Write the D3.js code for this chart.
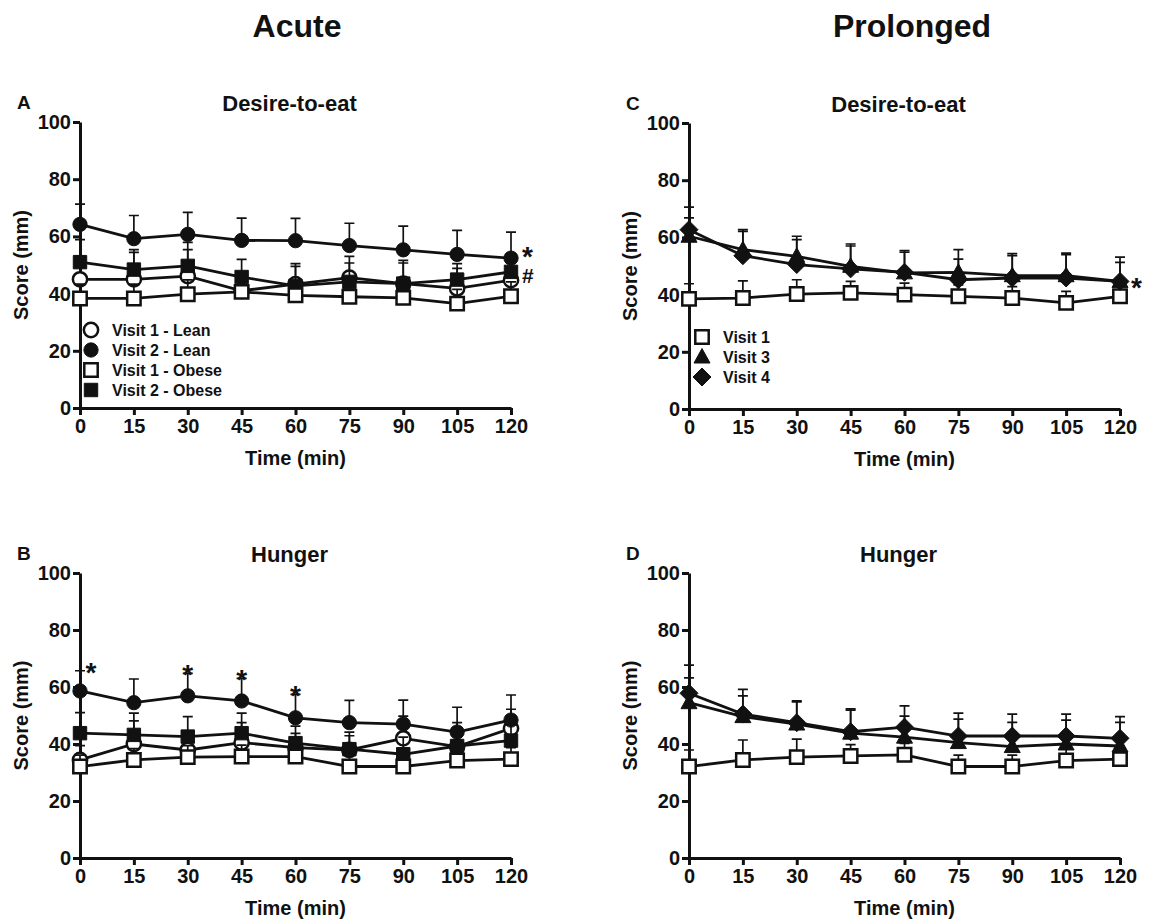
<!DOCTYPE html>
<html>
<head>
<meta charset="utf-8">
<script src="https://cdn.jsdelivr.net/npm/d3@7/dist/d3.min.js"></script>
<style>
body { margin: 0; background: #fff; }
svg text { font-family: "Liberation Sans", Arial, sans-serif; font-weight: bold; fill: #111; }
</style>
</head>
<body>
<script>
// time points and y ticks
var times = [0, 15, 30, 45, 60, 75, 90, 105, 120];
var yTicks = [0, 20, 40, 60, 80, 100];

// A - acute, desire-to-eat (mean, SEM)
var aV1Lean = [45.0, 45.0, 46.1, 41.0, 43.3, 45.6, 43.5, 41.8, 44.7];
var aV1LeanErr = [8.0, 9.4, 11.8, 6.5, 6.2, 7.4, 7.2, 7.0, 7.0];
var aV2Lean = [64.2, 59.2, 60.7, 58.6, 58.5, 56.8, 55.3, 53.7, 52.4];
var aV2LeanErr = [7.1, 8.1, 7.7, 7.8, 7.8, 7.8, 8.3, 8.4, 9.1];
var aV1Obese = [38.3, 38.3, 39.8, 40.6, 39.4, 38.9, 38.5, 36.5, 39.1];
var aV1ObeseErr = [5.0, 5.0, 5.0, 4.5, 5.0, 5.0, 5.0, 5.0, 5.0];
var aV2Obese = [51.0, 48.4, 49.7, 45.8, 42.7, 44.1, 43.5, 44.9, 47.6];
var aV2ObeseErr = [7.9, 7.0, 5.7, 6.2, 7.8, 6.6, 8.1, 5.6, 4.0];

// B - acute, hunger
var bV1Lean = [34.4, 40.0, 37.9, 40.5, 38.7, 37.9, 42.0, 39.1, 45.5];
var bV1LeanErr = [5.0, 8.1, 6.0, 7.0, 5.0, 5.0, 7.8, 5.0, 6.7];
var bV2Lean = [58.6, 54.5, 56.9, 55.1, 49.2, 47.5, 47.0, 44.2, 48.4];
var bV2LeanErr = [7.1, 8.3, 7.9, 7.9, 8.2, 7.8, 8.4, 8.7, 8.8];
var bV1Obese = [32.1, 34.4, 35.4, 35.6, 35.6, 32.1, 32.1, 34.2, 34.7];
var bV1ObeseErr = [4.0, 4.0, 4.0, 4.0, 4.0, 4.0, 4.0, 4.0, 4.0];
var bV2Obese = [43.8, 43.2, 42.6, 43.8, 40.3, 38.2, 36.4, 39.3, 41.2];
var bV2ObeseErr = [7.2, 7.6, 7.0, 7.0, 6.0, 6.0, 6.0, 8.2, 6.0];
var bStarIdx = [0, 2, 3, 4];

// C - prolonged, desire-to-eat
var cV1 = [38.5, 38.8, 40.2, 40.6, 40.0, 39.4, 38.8, 37.1, 39.4];
var cV1Err = [5.3, 6.0, 5.0, 4.0, 4.0, 4.0, 4.0, 4.0, 4.0];
var cV3 = [60.4, 55.7, 53.4, 49.9, 47.6, 47.8, 46.6, 46.6, 44.6];
var cV3Err = [6.4, 7.0, 7.0, 7.8, 7.8, 7.9, 7.7, 7.9, 6.7];
var cV4 = [62.7, 53.6, 50.5, 49.0, 47.8, 45.2, 45.8, 45.8, 44.6];
var cV4Err = [7.9, 8.5, 8.7, 8.0, 7.0, 7.2, 7.8, 8.2, 8.5];

// D - prolonged, hunger
var dV1 = [32.1, 34.4, 35.4, 35.8, 36.2, 32.1, 32.1, 34.2, 34.7];
var dV1Err = [5.8, 7.0, 6.3, 4.0, 4.0, 4.0, 4.0, 4.0, 4.0];
var dV3 = [54.5, 49.6, 47.0, 43.8, 42.4, 40.5, 39.1, 40.0, 39.3];
var dV3Err = [8.7, 7.3, 7.8, 8.1, 7.4, 8.2, 8.5, 8.4, 8.3];
var dV4 = [57.8, 50.5, 47.5, 44.3, 45.9, 42.8, 42.8, 42.8, 42.0];
var dV4Err = [9.9, 8.7, 7.6, 8.0, 7.5, 8.0, 7.7, 7.7, 7.6];

var INK = '#111';

var svg = d3.select('body').append('svg')
	.attr('width', 1151)
	.attr('height', 922);

// column headings
svg.append('text').attr('x', 297).attr('y', 37).attr('text-anchor', 'middle')
	.style('font-size', '32px').text('Acute');
svg.append('text').attr('x', 912).attr('y', 37).attr('text-anchor', 'middle')
	.style('font-size', '32px').text('Prolonged');

// marker shapes
function markerPath(shape) {
	if (shape === 'circle') return d3.symbol().type(d3.symbolCircle).size(160)();
	if (shape === 'square') return d3.symbol().type(d3.symbolSquare).size(180)();
	if (shape === 'triangle') return 'M0,-8.5L8,6L-8,6Z';
	if (shape === 'diamond') return 'M0,-9L9,0L0,9L-9,0Z';
}

function drawPanel(p) {
	var x = d3.scaleLinear().domain([0, 120]).range([p.left, p.right]);
	var y = d3.scaleLinear().domain([0, 100]).range([p.bottom, p.top]);
	var g = svg.append('g');

	// labels
	g.append('text').attr('x', p.left - 63).attr('y', p.top - 13)
		.style('font-size', '19px').text(p.letter);
	g.append('text').attr('x', (p.left + p.right) / 2 - 6).attr('y', p.top - 11)
		.attr('text-anchor', 'middle').style('font-size', '22px').text(p.title);
	g.append('text')
		.attr('transform', 'translate(' + (p.left - 52) + ',' + ((p.top + p.bottom) / 2) + ') rotate(-90)')
		.attr('text-anchor', 'middle').style('font-size', '20px').text('Score (mm)');
	g.append('text').attr('x', (p.left + p.right) / 2).attr('y', p.bottom + 57)
		.attr('text-anchor', 'middle').style('font-size', '20px').text('Time (min)');

	// axes
	var yAxis = d3.axisLeft(y).tickValues(yTicks).tickSize(7).tickSizeOuter(0).tickPadding(2);
	var xAxis = d3.axisBottom(x).tickValues(times).tickSize(7).tickSizeOuter(0).tickPadding(4);
	var ya = g.append('g').attr('transform', 'translate(' + p.left + ',0)').call(yAxis);
	var xa = g.append('g').attr('transform', 'translate(0,' + p.bottom + ')').call(xAxis);
	[ya, xa].forEach(function(a) {
		a.select('.domain').attr('stroke', INK).attr('stroke-width', 3);
		a.selectAll('.tick line').attr('stroke', INK).attr('stroke-width', 3);
		a.selectAll('.tick text').style('font-size', '20px').attr('fill', INK);
	});

	// series
	p.series.forEach(function(s) {
		var pts = times.map(function(t, i) { return { t: t, v: s.mean[i], e: s.err[i] }; });
		var sg = g.append('g');
		sg.selectAll('.err').data(pts).enter().append('path')
			.attr('d', function(d) {
				var cx = x(d.t), y0 = y(d.v), y1 = y(d.v + d.e);
				return 'M' + cx + ',' + y0 + 'V' + y1 + 'M' + (cx - 5) + ',' + y1 + 'H' + (cx + 5);
			})
			.attr('fill', 'none').attr('stroke', INK).attr('stroke-width', 1.7);
		sg.append('path').datum(pts)
			.attr('d', d3.line().x(function(d) { return x(d.t); }).y(function(d) { return y(d.v); }))
			.attr('fill', 'none').attr('stroke', INK).attr('stroke-width', 2.8);
		sg.selectAll('.mk').data(pts).enter().append('path')
			.attr('transform', function(d) { return 'translate(' + x(d.t) + ',' + y(d.v) + ')'; })
			.attr('d', markerPath(s.shape))
			.attr('fill', s.filled ? INK : '#fff')
			.attr('stroke', INK).attr('stroke-width', s.filled ? 1 : 2.5);
	});

	// legend
	if (p.legend) {
		p.series.slice().sort(function(a, b) { return a.order - b.order; }).forEach(function(s, i) {
			var ly = p.legendY + i * 20;
			g.append('path')
				.attr('transform', 'translate(' + (p.left + p.legendDx) + ',' + ly + ')')
				.attr('d', markerPath(s.shape))
				.attr('fill', s.filled ? INK : '#fff')
				.attr('stroke', INK).attr('stroke-width', s.filled ? 1 : 2.5);
			g.append('text').attr('x', p.left + p.legendDx + 21).attr('y', ly + 6)
				.style('font-size', '16px').text(s.name);
		});
	}

	// significance marks after the last time point
	(p.endMarks || []).forEach(function(m) {
		var s = p.series[m.series];
		g.append('text').attr('x', x(120) + 11).attr('y', y(s.mean[8]) + m.dy)
			.style('font-size', m.size + 'px').text(m.label);
	});
	// significance marks above error bars
	(p.stars || []).forEach(function(m) {
		var s = p.series[m.series];
		m.idx.forEach(function(i) {
			var sx = x(times[i]) + (i === 0 ? 11 : 0);
			g.append('text').attr('x', sx).attr('y', y(s.mean[i] + s.err[i]) + 11)
				.attr('text-anchor', 'middle').style('font-size', '28px').text('*');
		});
	});
}

var acuteSeries = function(v1l, v1le, v2l, v2le, v1o, v1oe, v2o, v2oe) {
	return [
		{ name: 'Visit 1 - Lean', mean: v1l, err: v1le, shape: 'circle', filled: false, order: 0 },
		{ name: 'Visit 2 - Lean', mean: v2l, err: v2le, shape: 'circle', filled: true, order: 1 },
		{ name: 'Visit 2 - Obese', mean: v2o, err: v2oe, shape: 'square', filled: true, order: 3 },
		{ name: 'Visit 1 - Obese', mean: v1o, err: v1oe, shape: 'square', filled: false, order: 2 }
	];
};
var prolongedSeries = function(v1, v1e, v3, v3e, v4, v4e) {
	return [
		{ name: 'Visit 1', mean: v1, err: v1e, shape: 'square', filled: false, order: 0 },
		{ name: 'Visit 3', mean: v3, err: v3e, shape: 'triangle', filled: true, order: 1 },
		{ name: 'Visit 4', mean: v4, err: v4e, shape: 'diamond', filled: true, order: 2 }
	];
};

drawPanel({
	letter: 'A', title: 'Desire-to-eat', left: 80, right: 511, top: 122, bottom: 408,
	series: acuteSeries(aV1Lean, aV1LeanErr, aV2Lean, aV2LeanErr, aV1Obese, aV1ObeseErr, aV2Obese, aV2ObeseErr),
	legend: true, legendY: 330, legendDx: 11,
	endMarks: [{ series: 1, label: '*', dy: 8, size: 28 }, { series: 2, label: '#', dy: 11, size: 21 }]
});
drawPanel({
	letter: 'B', title: 'Hunger', left: 80, right: 511, top: 573, bottom: 858,
	series: acuteSeries(bV1Lean, bV1LeanErr, bV2Lean, bV2LeanErr, bV1Obese, bV1ObeseErr, bV2Obese, bV2ObeseErr),
	stars: [{ series: 1, idx: bStarIdx }]
});
drawPanel({
	letter: 'C', title: 'Desire-to-eat', left: 689, right: 1120, top: 123, bottom: 409,
	series: prolongedSeries(cV1, cV1Err, cV3, cV3Err, cV4, cV4Err),
	legend: true, legendY: 337, legendDx: 13,
	endMarks: [{ series: 2, label: '*', dy: 16, size: 28 }]
});
drawPanel({
	letter: 'D', title: 'Hunger', left: 689, right: 1120, top: 573, bottom: 858,
	series: prolongedSeries(dV1, dV1Err, dV3, dV3Err, dV4, dV4Err)
});
</script>
</body>
</html>
